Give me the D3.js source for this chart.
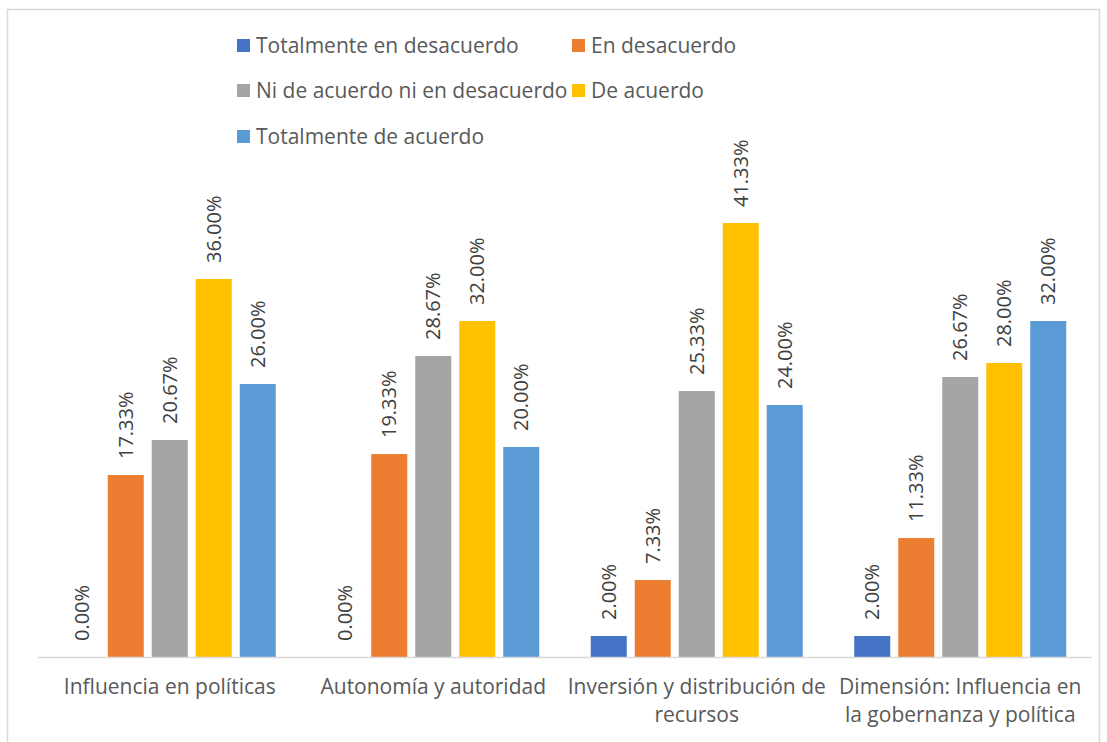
<!DOCTYPE html>
<html>
<head>
<meta charset="utf-8">
<script src="https://cdn.jsdelivr.net/npm/d3@7"></script>
<style>
body { margin: 0; background: #fff; }
svg { font-family: "Open Sans", "Noto Sans", sans-serif; }
</style>
</head>
<body>
<svg id="chart"></svg>
<script>
var categories = ["Influencia en políticas", "Autonomía y autoridad", "Inversión y distribución de recursos", "Dimensión: Influencia en la gobernanza y política"];
var categoryLines = [["Influencia en políticas"], ["Autonomía y autoridad"], ["Inversión y distribución de", "recursos"], ["Dimensión: Influencia en", "la gobernanza y política"]];
var seriesNames = ["Totalmente en desacuerdo", "En desacuerdo", "Ni de acuerdo ni en desacuerdo", "De acuerdo", "Totalmente de acuerdo"];
var totDesacuerdo = [0.00, 0.00, 2.00, 2.00];
var enDesacuerdo = [17.33, 19.33, 7.33, 11.33];
var niNi = [20.67, 28.67, 25.33, 26.67];
var deAcuerdo = [36.00, 32.00, 41.33, 28.00];
var totAcuerdo = [26.00, 20.00, 24.00, 32.00];
var colors = ["#4472C4", "#ED7D31", "#A5A5A5", "#FFC000", "#5B9BD5"];

var series = [totDesacuerdo, enDesacuerdo, niNi, deAcuerdo, totAcuerdo];

var width = 1107;
var height = 742;

var svg = d3.select("#chart")
    .attr("width", width)
    .attr("height", height)

// chart frame
svg.append("rect")
    .attr("x", 7.5)
    .attr("y", 9.5)
    .attr("width", 1092)
    .attr("height", 745)
    .attr("fill", "white")
    .attr("stroke", "#d9d9d9")
    .attr("stroke-width", 1.5)

var xScale = d3.scaleBand()
    .domain(categories)
    .range([38, 1092])
    .padding(0);

var innerScale = d3.scaleBand()
    .domain(d3.range(seriesNames.length))
    .range([-110, 110])
    .paddingInner(8 / 44)
    .paddingOuter(4 / 44);

var yScale = d3.scaleLinear()
    .domain([0, 45])
    .range([657, 184.5]);

var rows = [];
categories.forEach(function(cat, ci)
{
    series.forEach(function(vals, si)
    {
        rows.push({cat: cat, ci: ci, si: si, value: vals[ci]});
    })
})

var barX = function(d)
{
    return xScale(d.cat) + xScale.bandwidth() / 2 + innerScale(d.si);
}

svg.selectAll("rect.bar")
    .data(rows)
    .enter()
    .append("rect")
    .attr("class", "bar")
    .attr("x", barX)
    .attr("y", function(d) { return yScale(d.value); })
    .attr("width", innerScale.bandwidth())
    .attr("height", function(d) { return yScale(0) - yScale(d.value); })
    .attr("fill", function(d) { return colors[d.si]; })

// value labels, rotated
svg.selectAll("text.val")
    .data(rows)
    .enter()
    .append("text")
    .attr("class", "val")
    .attr("transform", function(d)
    {
        var x = barX(d) + innerScale.bandwidth() / 2 + 7;
        var y = yScale(d.value) - 16;
        return "translate(" + x + "," + y + ") rotate(-90)";
    })
    .attr("font-size", 20)
    .attr("fill", "#404040")
    .text(function(d) { return d.value.toFixed(2) + "%"; })

// baseline
svg.append("line")
    .attr("x1", 38)
    .attr("x2", 1092)
    .attr("y1", yScale(0) + 0.5)
    .attr("y2", yScale(0) + 0.5)
    .attr("stroke", "#d9d9d9")
    .attr("stroke-width", 1.5)

// category labels
categories.forEach(function(cat, ci)
{
    var t = svg.append("text")
        .attr("x", xScale(cat) + xScale.bandwidth() / 2)
        .attr("y", 694)
        .attr("text-anchor", "middle")
        .attr("font-size", 21)
        .attr("fill", "#595959")
    categoryLines[ci].forEach(function(line, li)
    {
        t.append("tspan")
            .attr("x", xScale(cat) + xScale.bandwidth() / 2)
            .attr("dy", li == 0 ? 0 : 28)
            .text(line)
    })
})

// legend
var legendPos = [[237, 46], [572, 46], [237, 91], [572, 91], [237, 137]];
var legend = svg.selectAll("g.legend")
    .data(seriesNames)
    .enter()
    .append("g")
    .attr("class", "legend")
    .attr("transform", function(d, i) { return "translate(" + legendPos[i][0] + "," + legendPos[i][1] + ")"; })
legend.append("rect")
    .attr("x", 0)
    .attr("y", -7)
    .attr("width", 13)
    .attr("height", 13)
    .attr("fill", function(d, i) { return colors[i]; })
legend.append("text")
    .attr("x", 19)
    .attr("y", 7)
    .attr("font-size", 21)
    .attr("fill", "#595959")
    .text(function(d) { return d; })
</script>
</body>
</html>
